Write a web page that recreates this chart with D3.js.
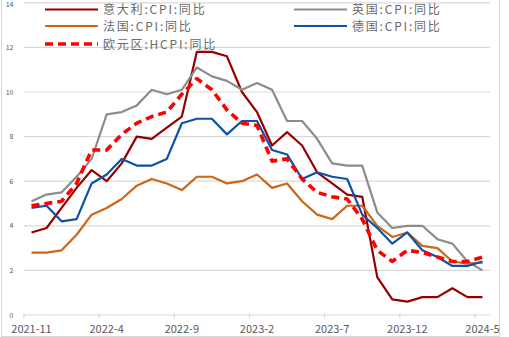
<!DOCTYPE html>
<html>
<head>
<meta charset="utf-8">
<script src="https://cdn.jsdelivr.net/npm/d3@7"></script>
<style>
  body { margin: 0; background: #fff; }
  svg { display: block; }
</style>
</head>
<body>
<div id="container"></div>
<script>
let w = 509;
let h = 337;

// months 2021-11 .. 2024-5
let months = ["2021-11","2021-12","2022-1","2022-2","2022-3","2022-4","2022-5","2022-6","2022-7","2022-8",
  "2022-9","2022-10","2022-11","2022-12","2023-1","2023-2","2023-3","2023-4","2023-5","2023-6",
  "2023-7","2023-8","2023-9","2023-10","2023-11","2023-12","2024-1","2024-2","2024-3","2024-4","2024-5"];

let italy   = [3.7,3.9,4.8,5.7,6.5,6.0,6.8,8.0,7.9,8.4,8.9,11.8,11.8,11.6,10.0,9.1,7.6,8.2,7.6,6.4,5.9,5.4,5.3,1.7,0.7,0.6,0.8,0.8,1.2,0.8,0.8];
let uk      = [5.1,5.4,5.5,6.2,7.0,9.0,9.1,9.4,10.1,9.9,10.1,11.1,10.7,10.5,10.1,10.4,10.1,8.7,8.7,7.9,6.8,6.7,6.7,4.6,3.9,4.0,4.0,3.4,3.2,2.4,2.0];
let france  = [2.8,2.8,2.9,3.6,4.5,4.8,5.2,5.8,6.1,5.9,5.6,6.2,6.2,5.9,6.0,6.3,5.7,5.9,5.1,4.5,4.3,4.9,4.9,4.0,3.5,3.7,3.1,3.0,2.4,2.3,2.35];
let germany = [4.8,4.9,4.2,4.3,5.9,6.3,7.0,6.7,6.7,7.0,8.6,8.8,8.8,8.1,8.7,8.7,7.4,7.2,6.1,6.4,6.2,6.1,4.5,3.9,3.2,3.7,2.9,2.6,2.2,2.2,2.4];
let euro    = [4.9,5.0,5.1,5.9,7.4,7.4,8.1,8.6,8.9,9.1,9.9,10.6,10.1,9.2,8.6,8.5,6.9,7.0,6.1,5.5,5.3,5.2,4.3,2.9,2.4,2.9,2.8,2.6,2.4,2.4,2.6];

let yTicks = [0,2,4,6,8,10,12,14];
let xLabelEvery = 5;

let series = [
  {name: "意大利:CPI:同比", values: italy,   color: "#980000", width: 2.2, dash: null},
  {name: "英国:CPI:同比",   values: uk,      color: "#8c8c8c", width: 2.2, dash: null},
  {name: "法国:CPI:同比",   values: france,  color: "#cc6619", width: 2.2, dash: null},
  {name: "德国:CPI:同比",   values: germany, color: "#0b52a8", width: 2.2, dash: null},
  {name: "欧元区:HCPI:同比", values: euro,    color: "#ff0000", width: 3.6, dash: "8,5"}
];

let plot = {left: 24, right: 490, top: 2.8, bottom: 315};

let viz = d3.select("#container")
  .append("svg")
    .attr("width", w)
    .attr("height", h)
    .style("font-family", "'Noto Sans CJK SC', 'DejaVu Sans', sans-serif");

// outer frame
viz.append("rect")
  .attr("x", 1.5).attr("y", -5)
  .attr("width", 498).attr("height", 341.5)
  .attr("fill", "none").attr("stroke", "#d9d9d9").attr("stroke-width", 1);

let xScale = d3.scaleBand().domain(d3.range(months.length)).range([plot.left, plot.right]).padding(0);
let yScale = d3.scaleLinear().domain([0, 14]).range([plot.bottom, plot.top]);

function xCenter(i) { return xScale(i) + xScale.bandwidth() / 2; }

// gridlines
viz.append("g").selectAll("line")
  .data(yTicks.filter(d => d > 0))
  .enter().append("line")
    .attr("x1", plot.left).attr("x2", plot.right)
    .attr("y1", d => yScale(d)).attr("y2", d => yScale(d))
    .attr("stroke", "#d9d9d9").attr("stroke-width", 1.2);

// y labels (top one nudged so it is not clipped)
viz.append("g").selectAll("text")
  .data(yTicks)
  .enter().append("text")
    .attr("x", 13.5)
    .attr("y", d => Math.max(yScale(d) + 2.5, 7))
    .attr("text-anchor", "end")
    .attr("font-size", 7)
    .attr("fill", "#595959")
    .text(d => d);

// x axis line + ticks
viz.append("line")
  .attr("x1", plot.left).attr("x2", plot.right)
  .attr("y1", plot.bottom).attr("y2", plot.bottom)
  .attr("stroke", "#d9d9d9").attr("stroke-width", 1.2);

let tickIdx = d3.range(0, months.length, xLabelEvery);
viz.append("g").selectAll("line")
  .data(tickIdx)
  .enter().append("line")
    .attr("x1", d => xScale(d)).attr("x2", d => xScale(d))
    .attr("y1", plot.bottom - 2).attr("y2", plot.bottom + 3)
    .attr("stroke", "#d9d9d9").attr("stroke-width", 1.2);

viz.append("g").selectAll("text")
  .data(tickIdx)
  .enter().append("text")
    .attr("x", d => xCenter(d))
    .attr("y", 333)
    .attr("text-anchor", "middle")
    .attr("font-size", 11)
    .attr("fill", "#595959")
    .text(d => months[d]);

// lines
let line = d3.line()
  .x((d, i) => xCenter(i))
  .y(d => yScale(d));

viz.append("g").selectAll("path")
  .data(series)
  .enter().append("path")
    .attr("d", d => line(d.values))
    .attr("fill", "none")
    .attr("stroke", d => d.color)
    .attr("stroke-width", d => d.width)
    .attr("stroke-dasharray", d => d.dash)
    .attr("stroke-linejoin", "round");

// legend
let legendPos = [
  {x: 45, y: 9.5},   // italy
  {x: 294, y: 9.5},  // uk
  {x: 45, y: 26},    // france
  {x: 294, y: 26},   // germany
  {x: 45, y: 44}     // euro
];

let legend = viz.append("g").selectAll("g")
  .data(series)
  .enter().append("g")
    .attr("transform", (d, i) => "translate(" + legendPos[i].x + "," + legendPos[i].y + ")");

legend.append("line")
  .attr("x1", 0).attr("x2", 53)
  .attr("y1", 0).attr("y2", 0)
  .attr("stroke", d => d.color)
  .attr("stroke-width", d => d.width)
  .attr("stroke-dasharray", d => d.dash);

legend.append("text")
  .attr("x", 58)
  .attr("y", 4.5)
  .attr("font-size", 12)
  .attr("letter-spacing", 1.8)
  .attr("fill", "#6a6a6a")
  .text(d => d.name);
</script>
</body>
</html>
